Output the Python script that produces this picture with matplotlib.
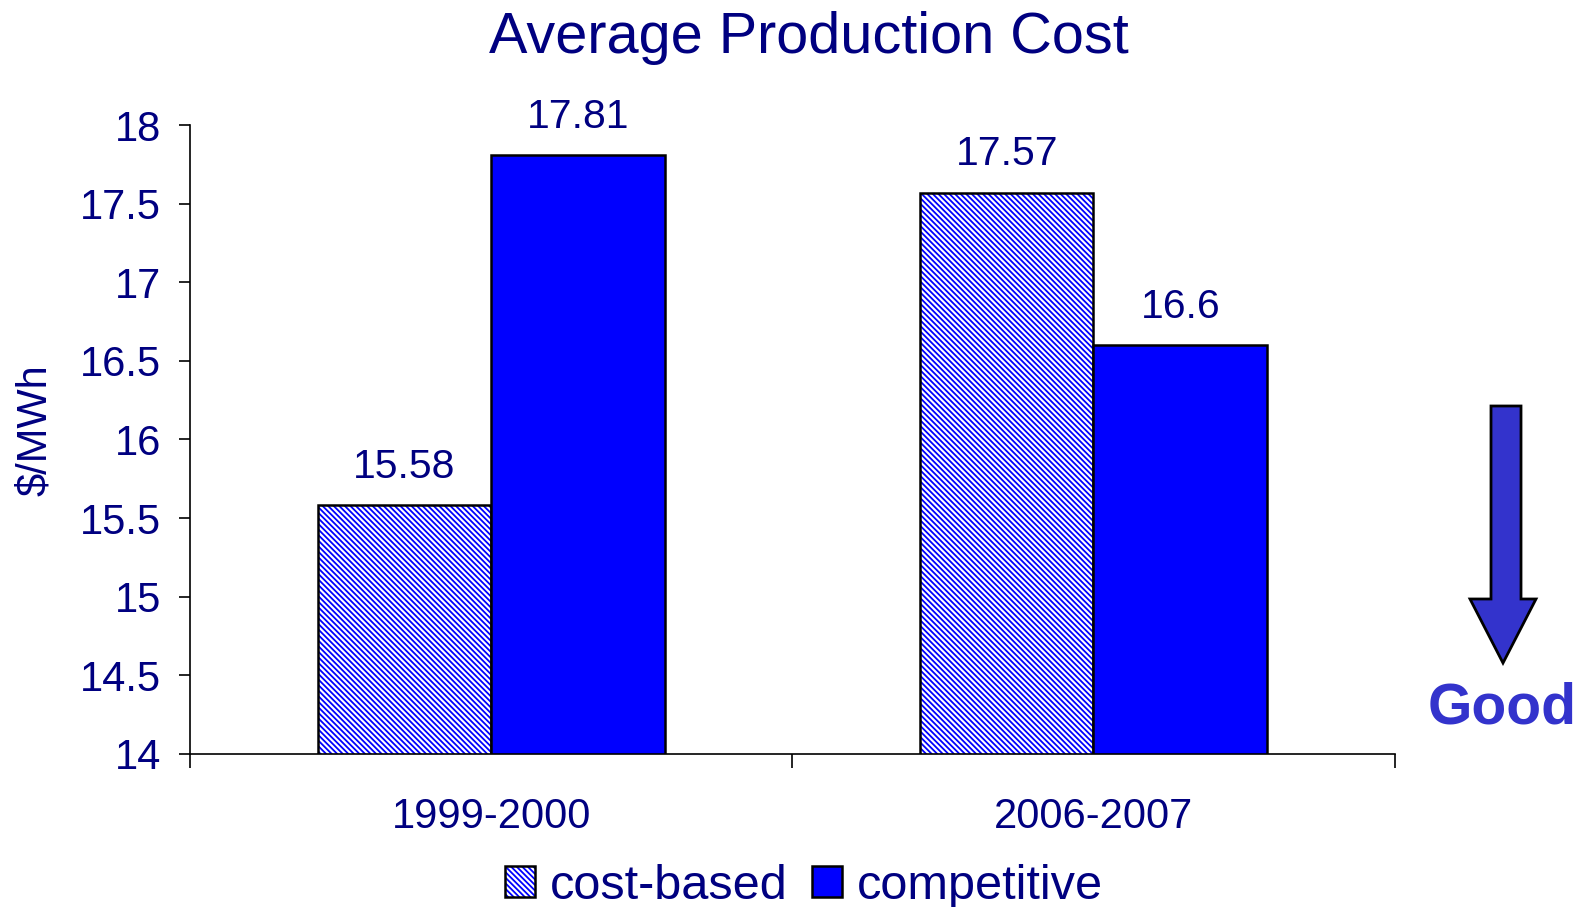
import matplotlib.pyplot as plt
import numpy as np
from matplotlib.patches import Polygon
from matplotlib.colors import to_rgba

plt.rcParams['font.family'] = ['Liberation Sans', 'DejaVu Sans']
plt.rcParams['hatch.linewidth'] = 1.3

periods = ['1999-2000', '2006-2007']
cost_based = [15.58, 17.57]
competitive = [17.81, 16.6]
yticks = [14, 14.5, 15, 15.5, 16, 16.5, 17, 17.5, 18]

navy = '#000080'
blue = '#0000FF'

fig = plt.figure(figsize=(15.83, 9.07), dpi=100)
ax = fig.add_axes([0.120, 0.169, 0.761, 0.693])

x = np.arange(len(periods))
w = 0.288
b1 = ax.bar(x - w / 2, cost_based, w, color='white', edgecolor='black',
            linewidth=1.8, hatch='\\' * 6, label='cost-based')
b2 = ax.bar(x + w / 2, competitive, w, color=blue, edgecolor='black',
            linewidth=1.8, label='competitive')
for p in b1:
    p._hatch_color = to_rgba(blue)

for bars, vals in [(b1, cost_based), (b2, competitive)]:
    for r, v in zip(bars, vals):
        ax.annotate(f'{v:g}', (r.get_x() + r.get_width() / 2, v), xytext=(0, 14),
                    textcoords='offset points', ha='center', va='bottom',
                    fontsize=29.5, color=navy)

ax.set_ylim(14, 18)
ax.set_xlim(-0.5, 1.5)
ax.set_yticks(yticks)
ax.set_yticklabels([f'{t:g}' for t in yticks], fontsize=30, color=navy)
ax.tick_params(axis='y', length=8, width=1.2, pad=13)

# category boundary ticks, labels centred under groups
ax.set_xticks([-0.5, 0.5, 1.5])
ax.set_xticklabels([])
ax.set_xticks(x, minor=True)
ax.set_xticklabels(periods, minor=True, fontsize=30, color=navy)
ax.tick_params(axis='x', which='major', length=10, width=1.2)
ax.tick_params(axis='x', which='minor', length=0, pad=31)

for s in ['top', 'right']:
    ax.spines[s].set_visible(False)
for s in ['left', 'bottom']:
    ax.spines[s].set_linewidth(1.2)

fig.text(35 / 1583, 1 - 430 / 907, '$/MWh', rotation=90, ha='center', va='center',
         fontsize=30, color=navy)
fig.suptitle('Average Production Cost', fontsize=41.5, color=navy, x=0.511, y=0.988)

leg = fig.legend(handles=[b1, b2], loc='lower center', bbox_to_anchor=(0.508, -0.05),
                 ncol=2, frameon=False, fontsize=35, labelcolor=navy, handlelength=0.62,
                 handleheight=0.62, handletextpad=0.3, columnspacing=0.5)
leg.legend_handles[0]._hatch_color = to_rgba(blue)

# "Good" arrow at right
arrow = [(1491, 406), (1521, 406), (1521, 599), (1536, 599), (1503, 663),
         (1470, 599), (1491, 599)]
arrow = [(px, 907 - py) for px, py in arrow]
fig.patches.append(Polygon(arrow, closed=True, transform=None, facecolor='#3333CC',
                           edgecolor='black', linewidth=2))
fig.text(1502 / 1583, 1 - 708 / 907, 'Good', ha='center', va='center',
         fontsize=41, fontweight='bold', color='#3333CC')

fig.savefig('out.png', dpi=100)
